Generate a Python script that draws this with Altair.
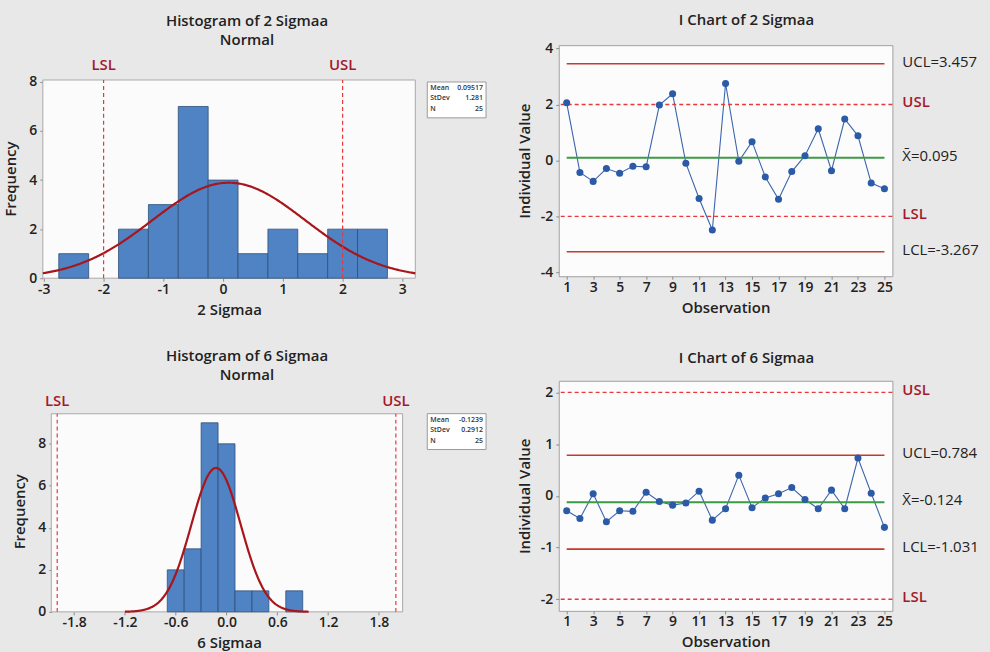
import altair as alt
import pandas as pd

FONT = "Open Sans"
BG = "#e8e8e8"
DARK = "#222222"
SPEC_RED = "#e8383d"
LABEL_RED = "#a3192b"
LIMIT_RED = "#c8382c"
GREEN = "#3d9a45"
BAR_BLUE = "#4f83c4"
PT_BLUE = "#2b5aa6"

# ---------------- data ----------------
# Histogram of 2 Sigmaa (bin lower edges, counts), fitted normal
h1_lo = [-2.75, -2.25, -1.75, -1.25, -0.75, -0.25, 0.25, 0.75, 1.25, 1.75, 2.25]
h1_counts = [1, 0, 2, 3, 7, 4, 1, 2, 1, 2, 2]
h1_bw = 0.5
h1_mean, h1_sd, h1_n = 0.09517, 1.281, 25
h1_stat_vals = ["0.09517", "1.281", "25"]

# Histogram of 6 Sigmaa
h2_lo = [-0.7, -0.5, -0.3, -0.1, 0.1, 0.3, 0.5, 0.7]
h2_counts = [2, 3, 9, 8, 1, 1, 0, 1]
h2_bw = 0.2
h2_mean, h2_sd, h2_n = -0.1239, 0.2912, 25
h2_stat_vals = ["-0.1239", "0.2912", "25"]

stat_names = ["Mean", "StDev", "N"]

# I charts
obs = list(range(1, 26))
i1_vals = [2.06, -0.43, -0.75, -0.29, -0.46, -0.21, -0.23, 1.98, 2.38, -0.10,
           -1.36, -2.49, 2.75, -0.03, 0.67, -0.59, -1.39, -0.40, 0.17, 1.13,
           -0.37, 1.48, 0.88, -0.81, -1.01]
i1_ucl, i1_center, i1_lcl = 3.457, 0.095, -3.267
i1_ctrl_labels = ["UCL=3.457", "X\u0304=0.095", "LCL=-3.267"]

i2_vals = [-0.29, -0.44, 0.04, -0.50, -0.29, -0.30, 0.07, -0.11, -0.18, -0.14,
           0.09, -0.47, -0.25, 0.40, -0.23, -0.04, 0.04, 0.16, -0.07, -0.25,
           0.11, -0.25, 0.73, 0.05, -0.61]
i2_ucl, i2_center, i2_lcl = 0.784, -0.124, -1.031
i2_ctrl_labels = ["UCL=0.784", "X\u0304=-0.124", "LCL=-1.031"]

spec_vals = [-2, 2]
spec_names = ["LSL", "USL"]

HYPHEN = "replace(datum.label, '\u2212', '-')"


def axis_common(**kw):
    base = dict(grid=False, domain=False, tickColor="#8a8a8a", tickSize=3,
                labelFont=FONT, labelFontSize=14, labelFontWeight=600, labelColor=DARK,
                titleFont=FONT, titleFontSize=15, titleFontWeight=600, titleColor=DARK,
                labelExpr=HYPHEN, labelOverlap=False, labelSeparation=0)
    base.update(kw)
    return alt.Axis(**base)


def histogram(title, xlabel, lo, counts, bw, mean, sd, n, stat_vals,
              xdom, frame_x, ydom, frame_top, xticks, xfmt, curve_rng,
              W, H, yoff, title_y, title_off, box_top):
    xs = alt.Scale(domain=xdom, nice=False, zero=False)
    ys = alt.Scale(domain=ydom, nice=False, zero=False)
    xax = axis_common(values=xticks, format=xfmt, title=xlabel, labelPadding=1, titlePadding=6)
    yax = axis_common(values=[0, 2, 4, 6, 8], title="Frequency", offset=yoff,
                      titleY=title_y, labelPadding=3, titlePadding=10)
    bars_df = pd.DataFrame({"lo": lo, "hi": [v + bw for v in lo], "count": counts})
    bars_df = bars_df[bars_df["count"] > 0]

    frame = alt.Chart(pd.DataFrame({"a": [frame_x[0]], "b": [frame_x[1]],
                                    "c": [0.0], "d": [frame_top]})).mark_rect(
        fill="#fbfbfb", stroke="#a8a8a8", strokeWidth=1
    ).encode(
        x=alt.X("a:Q", scale=xs, axis=xax), x2="b:Q",
        y=alt.Y("c:Q", scale=ys, axis=yax), y2="d:Q",
    )

    bars = alt.Chart(bars_df).mark_rect(
        fill=BAR_BLUE, stroke="#2f4f78", strokeWidth=0.8
    ).encode(
        x=alt.X("lo:Q", scale=xs, axis=xax), x2="hi:Q",
        y=alt.Y("count:Q", scale=ys, axis=yax), y2=alt.datum(0),
    )

    step = (curve_rng[1] - curve_rng[0]) / 300
    curve = alt.Chart(alt.sequence(curve_rng[0], curve_rng[1] + step / 2, step, as_="x")).transform_calculate(
        y=f"{n * bw}*densityNormal(datum.x, {mean}, {sd})"
    ).mark_line(color="#a8161b", strokeWidth=2.2).encode(
        x=alt.X("x:Q", scale=xs, axis=xax),
        y=alt.Y("y:Q", scale=ys, axis=yax),
    )

    spec_df = pd.DataFrame({"v": spec_vals, "name": spec_names})
    spec_rule = alt.Chart(spec_df).mark_rule(
        color=SPEC_RED, strokeDash=[4, 3], strokeWidth=1.2
    ).encode(
        x=alt.X("v:Q", scale=xs, axis=xax),
        y=alt.datum(0), y2=alt.datum(frame_top),
    )
    spec_text = alt.Chart(spec_df).mark_text(
        font=FONT, fontSize=15, fontWeight=600, color=LABEL_RED, baseline="middle"
    ).encode(
        x=alt.X("v:Q", scale=xs, axis=xax), y=alt.value(20), text="name:N"
    )

    box = alt.Chart(pd.DataFrame({"k": [0]})).mark_rect(
        fill="#ffffff", stroke="#9a9a9a", strokeWidth=1
    ).encode(
        x=alt.value(W + 12), x2=alt.value(W + 71),
        y=alt.value(box_top), y2=alt.value(box_top + 36),
    )
    layers = [frame, bars, curve, spec_rule, spec_text, box]
    for i, (nm, vl) in enumerate(zip(stat_names, stat_vals)):
        row = pd.DataFrame({"nm": [nm], "vl": [vl]})
        yy = box_top + 6 + i * 10.5
        layers.append(alt.Chart(row).mark_text(
            font=FONT, fontSize=7, fontWeight=600, color="#333", align="left", baseline="middle"
        ).encode(x=alt.value(W + 15), y=alt.value(yy), text="nm:N"))
        layers.append(alt.Chart(row).mark_text(
            font=FONT, fontSize=7, fontWeight=600, color="#333", align="right", baseline="middle"
        ).encode(x=alt.value(W + 68), y=alt.value(yy), text="vl:N"))

    return alt.layer(*layers).properties(
        width=W, height=H,
        title=alt.TitleParams(text=title, font=FONT, fontSize=15, fontWeight=600,
                              color=DARK, lineHeight=19, offset=title_off, dx=18),
        view=alt.ViewBackground(fill="transparent", strokeWidth=0),
    )


def ichart(title, vals, ucl, center, lcl, ctrl_labels, ydom, yticks, W, H, title_off):
    xs = alt.Scale(domain=[0.4, 25.6], nice=False, zero=False)
    ys = alt.Scale(domain=ydom, nice=False, zero=False)
    xax = axis_common(values=list(range(1, 26, 2)), title="Observation",
                      labelPadding=1, titlePadding=6)
    yax = axis_common(values=yticks, title="Individual Value", labelPadding=3, titlePadding=8)
    df = pd.DataFrame({"obs": obs, "val": vals})
    first, last = obs[0], obs[-1]

    spec_df = pd.DataFrame({"v": spec_vals, "name": spec_names})
    spec_rule = alt.Chart(spec_df).mark_rule(
        color=SPEC_RED, strokeDash=[4, 3], strokeWidth=1.4
    ).encode(y=alt.Y("v:Q", scale=ys, axis=yax))
    ctrl_df = pd.DataFrame({"v": [ucl, center, lcl], "lab": ctrl_labels})
    lim_df = pd.DataFrame({"v": [ucl, lcl], "s": [first, first], "e": [last, last]})
    cen_df = pd.DataFrame({"v": [center], "s": [first], "e": [last]})
    lim_rule = alt.Chart(lim_df).mark_rule(color=LIMIT_RED, strokeWidth=1.6).encode(
        x=alt.X("s:Q", scale=xs, axis=xax), x2="e:Q",
        y=alt.Y("v:Q", scale=ys, axis=yax),
    )
    cen_rule = alt.Chart(cen_df).mark_rule(color=GREEN, strokeWidth=1.8).encode(
        x=alt.X("s:Q", scale=xs, axis=xax), x2="e:Q",
        y=alt.Y("v:Q", scale=ys, axis=yax),
    )
    line = alt.Chart(df).mark_line(color="#3c64ae", strokeWidth=1.1).encode(
        x=alt.X("obs:Q", scale=xs, axis=xax),
        y=alt.Y("val:Q", scale=ys, axis=yax),
    )
    pts = alt.Chart(df).mark_circle(color=PT_BLUE, size=50, opacity=1).encode(
        x=alt.X("obs:Q", scale=xs, axis=xax),
        y=alt.Y("val:Q", scale=ys, axis=yax),
    )
    ctrl_text = alt.Chart(ctrl_df).mark_text(
        font=FONT, fontSize=15, color=DARK, align="left", baseline="middle", dy=-2
    ).encode(x=alt.value(W + 10), y=alt.Y("v:Q", scale=ys, axis=yax), text="lab:N")
    spec_text = alt.Chart(spec_df).mark_text(
        font=FONT, fontSize=15, fontWeight=600, color=LABEL_RED, align="left",
        baseline="middle", dy=-2
    ).encode(x=alt.value(W + 10), y=alt.Y("v:Q", scale=ys, axis=yax), text="name:N")

    return alt.layer(line, spec_rule, lim_rule, cen_rule, pts, ctrl_text, spec_text).properties(
        width=W, height=H,
        title=alt.TitleParams(text=title, font=FONT, fontSize=15, fontWeight=600,
                              color=DARK, offset=title_off, dx=21),
        view=alt.ViewBackground(fill="#fcfcfc", stroke="#a0a0a0", strokeWidth=1),
    )


h1 = histogram(["Histogram of 2 Sigmaa", "Normal"], "2 Sigmaa", h1_lo, h1_counts, h1_bw,
               h1_mean, h1_sd, h1_n, h1_stat_vals,
               xdom=[-3.017, 3.217], frame_x=[-3.017, 3.217], ydom=[0, 9.5], frame_top=8.08,
               xticks=[-3, -2, -1, 0, 1, 2, 3], xfmt="d", curve_rng=[-3.017, 3.217],
               W=374, H=234, yoff=0, title_y=134, title_off=-3, box_top=37)

h2 = histogram(["Histogram of 6 Sigmaa", "Normal"], "6 Sigmaa", h2_lo, h2_counts, h2_bw,
               h2_mean, h2_sd, h2_n, h2_stat_vals,
               xdom=[-2.17, 2.23], frame_x=[-2.07, 2.08], ydom=[0, 11.0], frame_top=9.43,
               xticks=[-1.8, -1.2, -0.6, 0.0, 0.6, 1.2, 1.8], xfmt=".1f", curve_rng=[-1.2, 0.97],
               W=374, H=232, yoff=-9, title_y=131, title_off=-2, box_top=33)

i1 = ichart("I Chart of 2 Sigmaa", i1_vals, i1_ucl, i1_center, i1_lcl, i1_ctrl_labels,
            ydom=[-4.14, 4.12], yticks=[-4, -2, 0, 2, 4], W=335, H=232, title_off=14)
i2 = ichart("I Chart of 6 Sigmaa", i2_vals, i2_ucl, i2_center, i2_lcl, i2_ctrl_labels,
            ydom=[-2.225, 2.225], yticks=[-2, -1, 0, 1, 2], W=335, H=231, title_off=15)

chart = alt.vconcat(
    alt.hconcat(h1, i1, spacing=29),
    alt.hconcat(h2, i2, spacing=29),
    spacing=32,
).properties(
    background=BG,
    padding={"left": 3, "top": 10, "right": 10, "bottom": 8},
).configure(font=FONT)

chart.save("out.html", embed_options={"renderer": "svg", "actions": False})
